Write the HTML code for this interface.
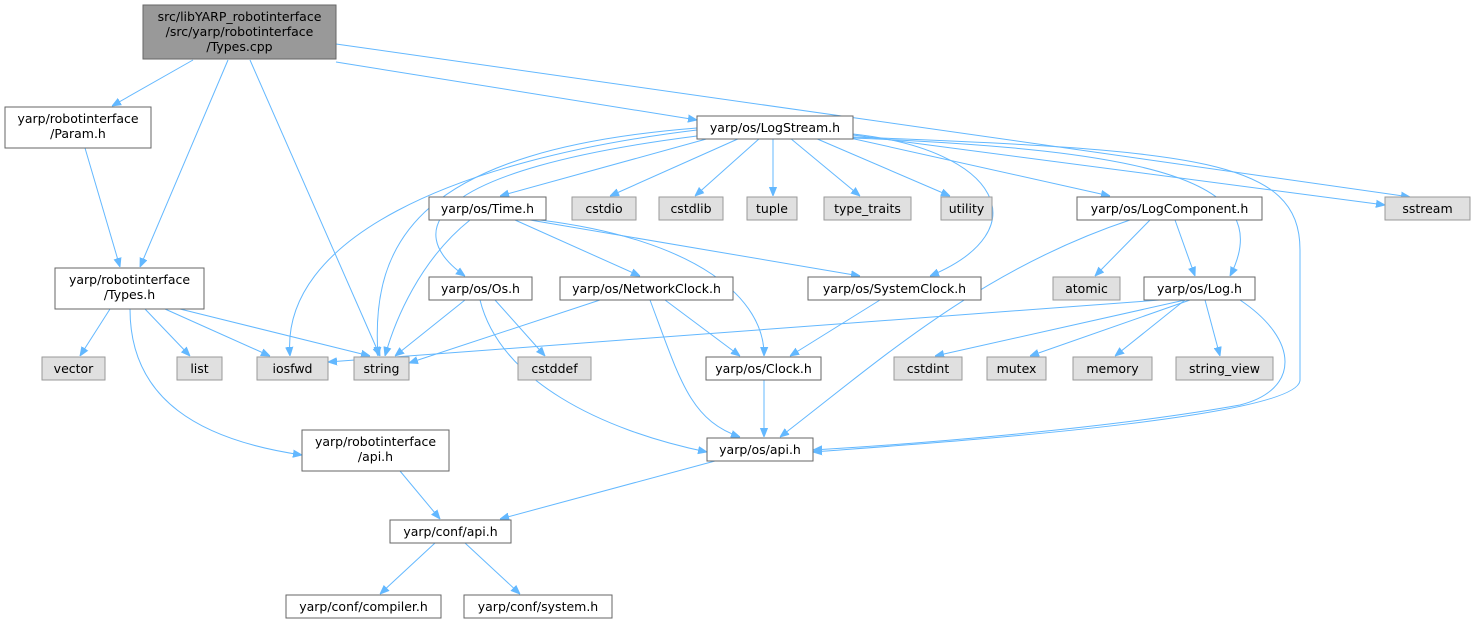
<!DOCTYPE html>
<html><head><meta charset="utf-8"><style>
html,body{margin:0;padding:0;background:#fff;}
svg{display:block}
text{font-family:"DejaVu Sans","Liberation Sans",sans-serif;font-size:12.5px;fill:#000;text-anchor:middle}
.n{fill:#fff;stroke:#666;stroke-width:1}
.g{fill:#e0e0e0;stroke:#999;stroke-width:1}
.e{fill:none;stroke:#63b8ff;stroke-width:1;marker-end:url(#a)}
</style></head><body>
<svg width="1480" height="623" viewBox="0 0 1480 623">
<defs><marker id="a" viewBox="0 0 10 10" refX="10" refY="5" markerWidth="9" markerHeight="9" orient="auto" markerUnits="userSpaceOnUse"><path d="M0,1L10,5L0,9z" fill="#63b8ff" stroke="#63b8ff"/></marker></defs>

<path class="e" d="M193,60L112,106"/>
<path class="e" d="M228,60L140,267"/>
<path class="e" d="M250,60L380,356"/>
<path class="e" d="M336,62L697,120"/>
<path class="e" d="M336,44L1410,197"/>
<path class="e" d="M85,148L120,267"/>
<path class="e" d="M110,309L80,356"/>
<path class="e" d="M145,309L190,356"/>
<path class="e" d="M165,309L270,356"/>
<path class="e" d="M180,309L370,356"/>
<path class="e" d="M130,309C130,400 200,440 302,455"/>
<path class="e" d="M710,138L500,196"/>
<path class="e" d="M740,138L610,196"/>
<path class="e" d="M760,138L695,196"/>
<path class="e" d="M773,138L773,196"/>
<path class="e" d="M790,138L860,196"/>
<path class="e" d="M815,138L950,196"/>
<path class="e" d="M850,138L1110,196"/>
<path class="e" d="M853,135L1385,205"/>
<path class="e" d="M853,138C1150,150 1280,180 1230,276"/>
<path class="e" d="M853,134C1000,150 1040,230 930,276"/>
<path class="e" d="M697,136C430,170 400,230 465,276"/>
<path class="e" d="M697,130C450,160 280,240 290,356"/>
<path class="e" d="M697,128C420,150 370,240 378,356"/>
<path class="e" d="M853,137C1200,150 1300,160 1300,250L1300,380C1300,420 900,445 813,452"/>
<path class="e" d="M470,220C420,260 395,320 385,356"/>
<path class="e" d="M515,220L640,276"/>
<path class="e" d="M530,220L860,276"/>
<path class="e" d="M540,220C700,240 765,300 764,356"/>
<path class="e" d="M1150,220L1095,276"/>
<path class="e" d="M1175,220L1195,276"/>
<path class="e" d="M1130,220C980,270 880,360 780,437"/>
<path class="e" d="M465,300L395,356"/>
<path class="e" d="M495,300L545,356"/>
<path class="e" d="M480,300C500,380 600,430 707,452"/>
<path class="e" d="M600,300L409,363"/>
<path class="e" d="M665,300L740,356"/>
<path class="e" d="M650,300C680,380 690,420 740,437"/>
<path class="e" d="M880,300L790,356"/>
<path class="e" d="M764,380L764,437"/>
<path class="e" d="M1160,300L328,362"/>
<path class="e" d="M1185,300L935,356"/>
<path class="e" d="M1190,300L1030,356"/>
<path class="e" d="M1185,300L1115,356"/>
<path class="e" d="M1205,300L1220,356"/>
<path class="e" d="M1240,300C1300,340 1300,390 1240,405C1100,430 900,445 813,450"/>
<path class="e" d="M400,471L440,519"/>
<path class="e" d="M715,461L500,519"/>
<path class="e" d="M435,543L380,594"/>
<path class="e" d="M465,543L520,594"/>

<rect x="143" y="5" width="193" height="54" fill="#999" stroke="#666"/>
<text x="239.5" y="21">src/libYARP_robotinterface</text>
<text x="239.5" y="36">/src/yarp/robotinterface</text>
<text x="239.5" y="51">/Types.cpp</text>

<rect class="n" x="5" y="107" width="146" height="41"/>
<text x="78" y="123">yarp/robotinterface</text><text x="78" y="138">/Param.h</text>
<rect class="n" x="55" y="268" width="149" height="41"/>
<text x="129.5" y="284">yarp/robotinterface</text><text x="129.5" y="299">/Types.h</text>
<rect class="n" x="697" y="116" width="156" height="23"/><text x="775" y="132">yarp/os/LogStream.h</text>
<rect class="n" x="429" y="197" width="117" height="23"/><text x="487.5" y="213">yarp/os/Time.h</text>
<rect class="g" x="572" y="197" width="64" height="23"/><text x="604" y="213">cstdio</text>
<rect class="g" x="659" y="197" width="64" height="23"/><text x="691" y="213">cstdlib</text>
<rect class="g" x="747" y="197" width="50" height="23"/><text x="772" y="213">tuple</text>
<rect class="g" x="824" y="197" width="87" height="23"/><text x="867.5" y="213">type_traits</text>
<rect class="g" x="941" y="197" width="51" height="23"/><text x="966.5" y="213">utility</text>
<rect class="n" x="1077" y="197" width="185" height="23"/><text x="1169.5" y="213">yarp/os/LogComponent.h</text>
<rect class="g" x="1385" y="197" width="85" height="23"/><text x="1427.5" y="213">sstream</text>
<rect class="n" x="429" y="277" width="103" height="23"/><text x="480.5" y="293">yarp/os/Os.h</text>
<rect class="n" x="560" y="277" width="173" height="23"/><text x="646.5" y="293">yarp/os/NetworkClock.h</text>
<rect class="n" x="808" y="277" width="173" height="23"/><text x="894.5" y="293">yarp/os/SystemClock.h</text>
<rect class="g" x="1053" y="277" width="67" height="23"/><text x="1086.5" y="293">atomic</text>
<rect class="n" x="1144" y="277" width="111" height="23"/><text x="1199.5" y="293">yarp/os/Log.h</text>
<rect class="g" x="42" y="357" width="63" height="23"/><text x="73.5" y="373">vector</text>
<rect class="g" x="177" y="357" width="45" height="23"/><text x="199.5" y="373">list</text>
<rect class="g" x="257" y="357" width="71" height="23"/><text x="292.5" y="373">iosfwd</text>
<rect class="g" x="354" y="357" width="55" height="23"/><text x="381.5" y="373">string</text>
<rect class="g" x="518" y="357" width="73" height="23"/><text x="554.5" y="373">cstddef</text>
<rect class="n" x="706" y="357" width="115" height="23"/><text x="763.5" y="373">yarp/os/Clock.h</text>
<rect class="g" x="894" y="357" width="68" height="23"/><text x="928" y="373">cstdint</text>
<rect class="g" x="987" y="357" width="59" height="23"/><text x="1016.5" y="373">mutex</text>
<rect class="g" x="1073" y="357" width="79" height="23"/><text x="1112.5" y="373">memory</text>
<rect class="g" x="1176" y="357" width="97" height="23"/><text x="1224.5" y="373">string_view</text>
<rect class="n" x="302" y="430" width="147" height="41"/>
<text x="375.5" y="446">yarp/robotinterface</text><text x="375.5" y="461">/api.h</text>
<rect class="n" x="707" y="438" width="106" height="23"/><text x="760" y="454">yarp/os/api.h</text>
<rect class="n" x="390" y="520" width="121" height="23"/><text x="450.5" y="536">yarp/conf/api.h</text>
<rect class="n" x="286" y="595" width="155" height="23"/><text x="363.5" y="611">yarp/conf/compiler.h</text>
<rect class="n" x="464" y="595" width="148" height="23"/><text x="538" y="611">yarp/conf/system.h</text>
</svg>
</body></html>
